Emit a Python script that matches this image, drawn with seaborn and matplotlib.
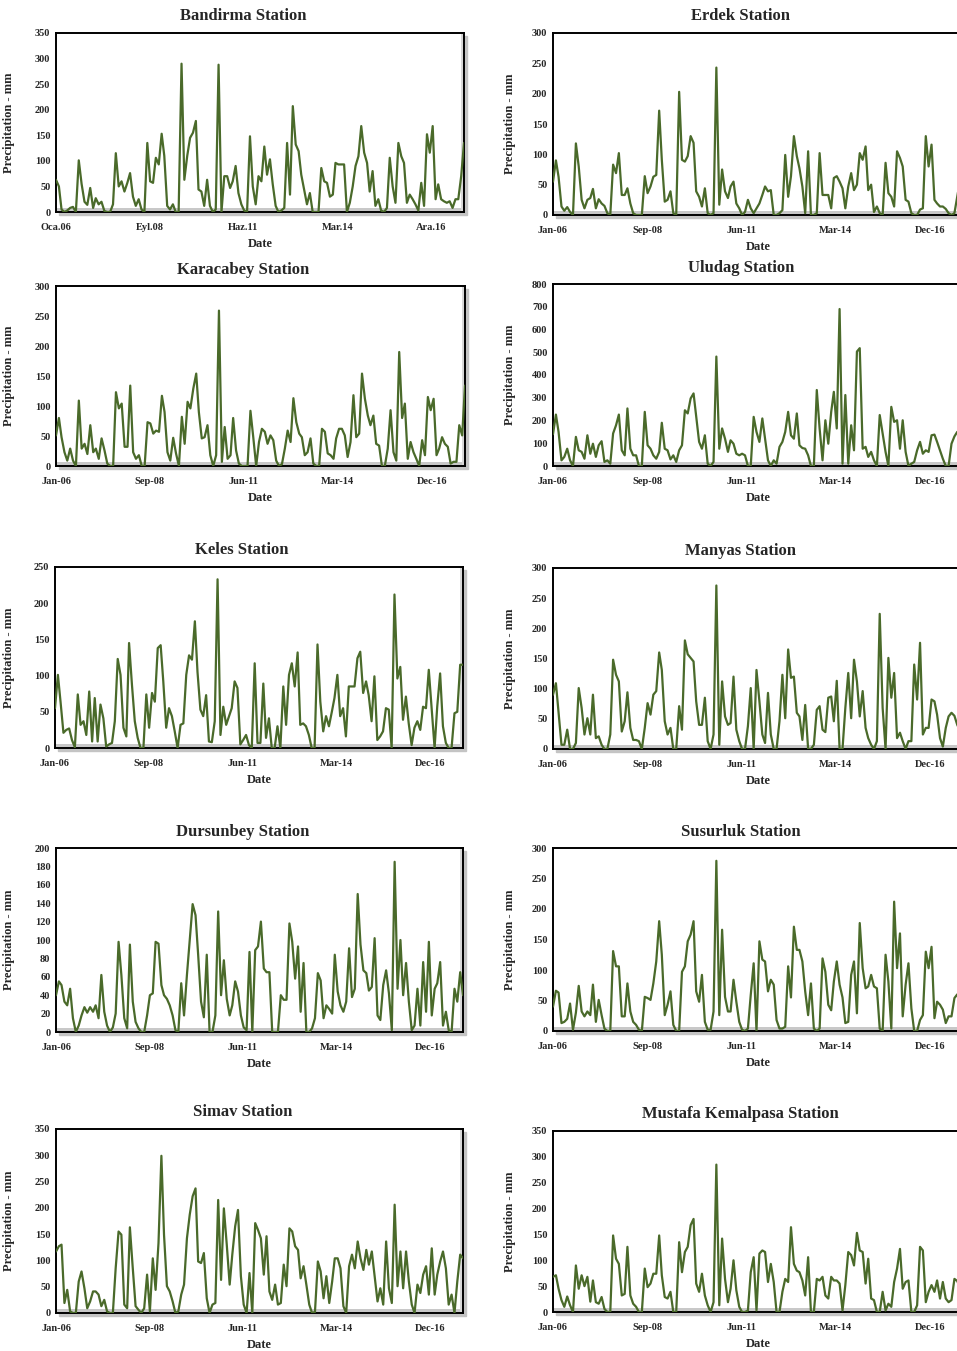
import pandas as pd
import numpy as np
from matplotlib import pyplot as plt
from matplotlib.patches import Rectangle
import seaborn as sns

# Monthly precipitation (mm), Jan 2006 onwards
bandirma = [63, 50, 5, 0, 3, 8, 10, 0, 101, 55, 20, 14,
            47, 8, 27, 15, 20, 2, 0, 0, 15, 115, 50, 60,
            40, 57, 76, 30, 12, 25, 5, 0, 135, 60, 57, 106,
            93, 153, 110, 12, 5, 15, 0, 0, 290, 63, 110, 145,
            155, 178, 44, 40, 12, 63, 12, 0, 5, 288, 0, 70,
            70, 47, 60, 90, 37, 15, 3, 0, 148, 50, 15, 70,
            60, 128, 73, 103, 54, 12, 0, 3, 8, 135, 34, 207,
            132, 119, 73, 44, 15, 37, 0, 0, 0, 86, 60, 57,
            30, 34, 96, 93, 93, 93, 0, 18, 50, 90, 109, 168,
            116, 96, 40, 80, 12, 25, 3, 0, 8, 106, 50, 18,
            135, 109, 96, 18, 34, 25, 15, 3, 57, 12, 152, 116,
            168, 25, 54, 25, 21, 18, 21, 8, 25, 25, 70, 135]

erdek = [55, 90, 63, 14, 7, 13, 5, 0, 118, 80, 25, 11,
         25, 28, 43, 11, 26, 19, 15, 3, 0, 83, 69, 102,
         33, 33, 44, 19, 3, 0, 0, 0, 64, 36, 47, 63,
         66, 172, 91, 22, 25, 39, 3, 0, 203, 91, 88, 97,
         130, 119, 39, 30, 14, 44, 3, 0, 3, 243, 17, 75,
         39, 28, 47, 55, 19, 11, 0, 5, 25, 11, 3, 11,
         19, 33, 47, 39, 41, 0, 0, 3, 8, 99, 30, 64,
         130, 97, 77, 47, 3, 105, 0, 0, 3, 102, 33, 33,
         33, 11, 61, 64, 55, 44, 11, 47, 69, 41, 50, 102,
         91, 113, 41, 50, 5, 14, 3, 0, 86, 36, 30, 14,
         105, 94, 80, 25, 22, 3, 0, 0, 9, 11, 130, 80,
         116, 25, 19, 14, 14, 10, 3, 0, 3, 30, 60, 80]

karacabey = [51, 80, 48, 23, 9, 29, 9, 0, 109, 29, 37, 20,
             68, 23, 29, 12, 46, 26, 4, 0, 0, 123, 96, 104,
             32, 32, 134, 23, 12, 18, 0, 0, 73, 71, 54, 59,
             57, 117, 90, 23, 9, 47, 21, 0, 82, 37, 107, 96,
             129, 154, 90, 46, 48, 68, 18, 0, 18, 259, 7, 65,
             12, 18, 80, 26, 4, 0, 0, 0, 92, 48, 0, 40,
             62, 57, 37, 51, 43, 9, 0, 3, 29, 59, 40, 113,
             73, 54, 48, 18, 23, 46, 4, 0, 0, 62, 57, 21,
             18, 12, 46, 62, 62, 51, 15, 40, 118, 48, 54, 154,
             112, 84, 68, 84, 37, 34, 0, 0, 29, 93, 23, 9,
             190, 80, 104, 12, 40, 23, 12, 0, 43, 18, 115, 93,
             112, 18, 29, 48, 37, 32, 4, 7, 7, 68, 51, 134]

uludag = [140, 226, 150, 25, 40, 76, 25, 0, 128, 69, 62, 32,
          135, 54, 98, 40, 91, 109, 18, 25, 10, 143, 179, 226,
          69, 47, 253, 76, 47, 47, 0, 0, 238, 91, 76, 47,
          32, 62, 190, 76, 69, 29, 47, 18, 69, 91, 245, 231,
          297, 319, 216, 106, 76, 135, 10, 0, 18, 481, 76, 165,
          120, 62, 113, 98, 54, 47, 54, 47, 0, 0, 216, 150,
          106, 209, 120, 25, 0, 25, 10, 84, 106, 150, 238, 135,
          120, 231, 91, 79, 76, 47, 0, 0, 334, 165, 25, 201,
          98, 238, 326, 165, 690, 10, 312, 10, 179, 69, 503, 518,
          76, 84, 40, 62, 25, 0, 224, 143, 62, 0, 260, 194,
          201, 76, 201, 62, 0, 10, 18, 69, 106, 54, 69, 62,
          135, 138, 106, 69, 32, 0, 0, 98, 130, 150, 120, 100]

keles = [55, 101, 64, 21, 25, 27, 11, 1, 74, 32, 37, 18,
         78, 9, 69, 9, 60, 41, 2, 5, 7, 37, 123, 101,
         28, 16, 145, 87, 37, 14, 0, 0, 74, 28, 76, 64,
         138, 142, 92, 28, 55, 44, 23, 0, 32, 34, 101, 128,
         122, 175, 105, 53, 44, 73, 9, 8, 37, 233, 18, 57,
         32, 44, 55, 92, 83, 5, 11, 18, 4, 0, 117, 7,
         7, 89, 14, 41, 0, 0, 30, 0, 85, 32, 101, 117,
         85, 132, 32, 34, 30, 18, 0, 0, 143, 64, 23, 44,
         30, 50, 69, 101, 44, 55, 16, 85, 85, 85, 124, 133,
         76, 92, 73, 37, 99, 11, 16, 23, 55, 53, 0, 212,
         96, 112, 39, 71, 34, 4, 28, 37, 25, 57, 55, 108,
         55, 0, 57, 103, 30, 7, 0, 0, 48, 50, 115, 115]

manyas = [90, 109, 60, 7, 7, 32, 0, 0, 10, 101, 68, 24,
          51, 24, 90, 18, 21, 7, 0, 0, 24, 148, 123, 112,
          29, 46, 94, 35, 15, 15, 13, 0, 35, 76, 57, 90,
          96, 160, 131, 46, 24, 35, 0, 0, 71, 32, 180, 157,
          151, 145, 79, 40, 40, 85, 13, 0, 24, 271, 7, 112,
          54, 40, 43, 120, 32, 13, 0, 0, 38, 101, 0, 131,
          79, 24, 10, 93, 24, 0, 0, 46, 123, 51, 165, 118,
          120, 60, 54, 15, 73, 0, 0, 7, 65, 71, 32, 28,
          85, 87, 46, 113, 0, 0, 68, 126, 51, 148, 112, 54,
          96, 35, 18, 7, 0, 13, 224, 68, 0, 151, 85, 126,
          18, 27, 13, 0, 13, 13, 140, 82, 176, 24, 35, 35,
          82, 79, 57, 18, 4, 35, 54, 60, 55, 40, 30, 45]

dursunbey = [40, 55, 51, 33, 29, 47, 15, 0, 7, 18, 27, 21,
             27, 22, 29, 15, 62, 22, 7, 0, 5, 20, 98, 62,
             15, 4, 95, 33, 11, 4, 0, 0, 18, 40, 42, 98,
             96, 51, 40, 36, 29, 18, 2, 0, 53, 18, 62, 100,
             139, 127, 84, 33, 16, 84, 0, 0, 18, 131, 40, 78,
             36, 18, 29, 55, 44, 18, 5, 2, 87, 0, 89, 93,
             120, 69, 65, 65, 0, 0, 0, 40, 35, 35, 118, 98,
             58, 93, 22, 75, 0, 0, 4, 15, 64, 56, 15, 29,
             25, 20, 84, 44, 29, 22, 33, 91, 38, 47, 150, 95,
             67, 64, 45, 49, 102, 18, 13, 51, 67, 42, 2, 185,
             47, 100, 40, 75, 33, 2, 7, 47, 7, 76, 22, 98,
             18, 47, 53, 76, 7, 22, 2, 0, 47, 33, 65, 40]

susurluk = [40, 66, 63, 13, 15, 20, 45, 2, 30, 74, 32, 24,
            32, 26, 76, 15, 51, 26, 4, 0, 0, 131, 106, 106,
            24, 24, 78, 32, 15, 10, 2, 0, 56, 54, 51, 78,
            114, 180, 125, 26, 43, 65, 10, 0, 0, 97, 106, 147,
            158, 180, 65, 48, 92, 15, 2, 2, 32, 279, 26, 166,
            56, 32, 32, 84, 48, 15, 2, 0, 4, 59, 111, 0,
            147, 117, 114, 65, 84, 76, 18, 4, 4, 7, 106, 55,
            171, 133, 133, 114, 65, 26, 78, 4, 0, 4, 119, 97,
            43, 34, 81, 114, 76, 55, 13, 15, 92, 114, 29, 177,
            103, 70, 73, 92, 73, 70, 4, 0, 125, 81, 4, 212,
            103, 160, 24, 76, 111, 37, 0, 0, 18, 26, 130, 103,
            138, 21, 48, 43, 35, 13, 24, 24, 54, 60, 50, 45]

simav = [117, 127, 130, 19, 44, 3, 0, 0, 60, 79, 47, 9,
         22, 41, 41, 35, 13, 25, 3, 0, 0, 85, 155, 149,
         16, 9, 163, 85, 13, 6, 0, 9, 73, 3, 104, 44,
         133, 299, 149, 51, 41, 22, 0, 3, 35, 54, 142, 187,
         222, 237, 98, 95, 114, 28, 0, 16, 19, 215, 63, 199,
         130, 54, 111, 165, 196, 70, 16, 0, 76, 0, 171, 158,
         142, 73, 146, 41, 25, 54, 16, 19, 92, 51, 161, 155,
         127, 120, 66, 89, 54, 16, 0, 2, 98, 79, 28, 70,
         19, 60, 104, 104, 85, 13, 0, 89, 111, 85, 136, 104,
         82, 120, 92, 117, 70, 22, 47, 16, 136, 47, 19, 206,
         51, 117, 47, 117, 60, 16, 0, 54, 38, 73, 89, 35,
         123, 35, 73, 98, 117, 85, 16, 35, 0, 60, 111, 104]

mustafa_kemalpasa = [68, 71, 45, 23, 10, 30, 13, 0, 90, 45, 71, 50,
                     68, 20, 61, 19, 16, 29, 6, 0, 0, 148, 103, 93,
                     32, 35, 126, 32, 16, 10, 0, 0, 84, 48, 55, 74,
                     74, 148, 71, 29, 26, 39, 0, 0, 135, 77, 116, 126,
                     168, 180, 55, 39, 74, 32, 13, 0, 19, 285, 13, 142,
                     64, 19, 45, 100, 42, 10, 0, 0, 3, 77, 106, 3,
                     113, 119, 116, 58, 93, 58, 0, 0, 39, 64, 58, 164,
                     93, 80, 77, 61, 32, 106, 0, 0, 64, 61, 68, 32,
                     26, 68, 61, 61, 55, 3, 52, 116, 110, 90, 153, 119,
                     116, 55, 103, 26, 23, 0, 0, 39, 3, 16, 10, 58,
                     84, 122, 45, 58, 61, 0, 0, 13, 126, 119, 19, 39,
                     52, 39, 61, 26, 58, 26, 19, 23, 64, 60, 45, 50]

titles = ["Bandirma Station", "Erdek Station", "Karacabey Station", "Uludag Station",
          "Keles Station", "Manyas Station", "Dursunbey Station", "Susurluk Station",
          "Simav Station", "Mustafa Kemalpasa Station"]
series = [bandirma, erdek, karacabey, uludag, keles, manyas,
          dursunbey, susurluk, simav, mustafa_kemalpasa]
y_max = [350, 300, 300, 800, 250, 300, 200, 300, 350, 350]
y_step = [50, 50, 50, 100, 50, 50, 20, 50, 50, 50]
x_labels_tr = ["Oca.06", "Eyl.08", "Haz.11", "Mar.14", "Ara.16"]
x_labels_en = ["Jan-06", "Sep-08", "Jun-11", "Mar-14", "Dec-16"]

sns.set_style("white")
plt.rcParams['font.family'] = ['Liberation Serif', 'DejaVu Serif']
plt.rcParams['font.weight'] = 'bold'

W, H = 957, 1351
fig = plt.figure(figsize=(W / 100, H / 100), dpi=100)

# axes boxes in pixels: (left, top, right, bottom)
boxes = [(56, 33, 464, 212), (553, 33, 963, 215),
         (56, 286, 465, 466), (553, 284, 963, 466),
         (55, 567, 463, 748), (553, 568, 963, 749),
         (56, 848, 463, 1032), (553, 848, 963, 1031),
         (56, 1129, 463, 1313), (553, 1131, 963, 1312)]

line_color = "#4a6a2a"
start = pd.Timestamp("2006-01-01")
ticks = [start + pd.Timedelta(days=1000 * k) for k in range(5)]

for i, (name, vals) in enumerate(zip(titles, series)):
    l, t, r, b = boxes[i]
    ax = fig.add_axes([l / W, 1 - b / H, (r - l) / W, (b - t) / H])
    # drop shadow behind the frame
    fig.patches.append(Rectangle(((l + 3) / W, 1 - (b + 3) / H), (r - l) / W, (b - t) / H,
                                 transform=fig.transFigure, color="#c4c4c4", zorder=-1))
    ax.add_patch(Rectangle((0, 0), 1, 0.022, transform=ax.transAxes,
                           color="#c8c8c8", lw=0, zorder=1))
    ax.add_patch(Rectangle((0.993, 0), 0.007, 1, transform=ax.transAxes,
                           color="#d8d8d8", lw=0, zorder=1))

    df = pd.DataFrame({"date": pd.date_range("2006-01-01", periods=len(vals), freq="MS"),
                       "mm": vals})
    sns.lineplot(data=df, x="date", y="mm", ax=ax, color=line_color, linewidth=1.6, zorder=3)

    ax.set_xlim(start, pd.Timestamp("2017-12-01"))
    ax.set_ylim(0, y_max[i])
    ax.set_yticks(np.arange(0, y_max[i] + 1, y_step[i]))
    ax.set_xticks(ticks)
    ax.set_xticklabels(x_labels_tr if i == 0 else x_labels_en)
    ax.tick_params(length=0, labelsize=7.5, pad=4)
    ax.tick_params(axis="x", pad=8)
    for lab in ax.get_xticklabels() + ax.get_yticklabels():
        lab.set_fontweight("bold")

    for s in ax.spines.values():
        s.set_color("black")
        s.set_linewidth(1.4)

    ax.set_title(name, fontsize=12, fontweight="bold", x=0.458, pad=9)
    ax.set_xlabel("Date", fontsize=9, fontweight="bold", labelpad=4)
    ax.set_ylabel("Precipitation - mm", fontsize=9, fontweight="bold")
    ax.yaxis.set_label_coords(-(l - 15 if i % 2 == 0 else l - 516) / (r - l), 0.5)

fig.savefig("out.png", dpi=100)
